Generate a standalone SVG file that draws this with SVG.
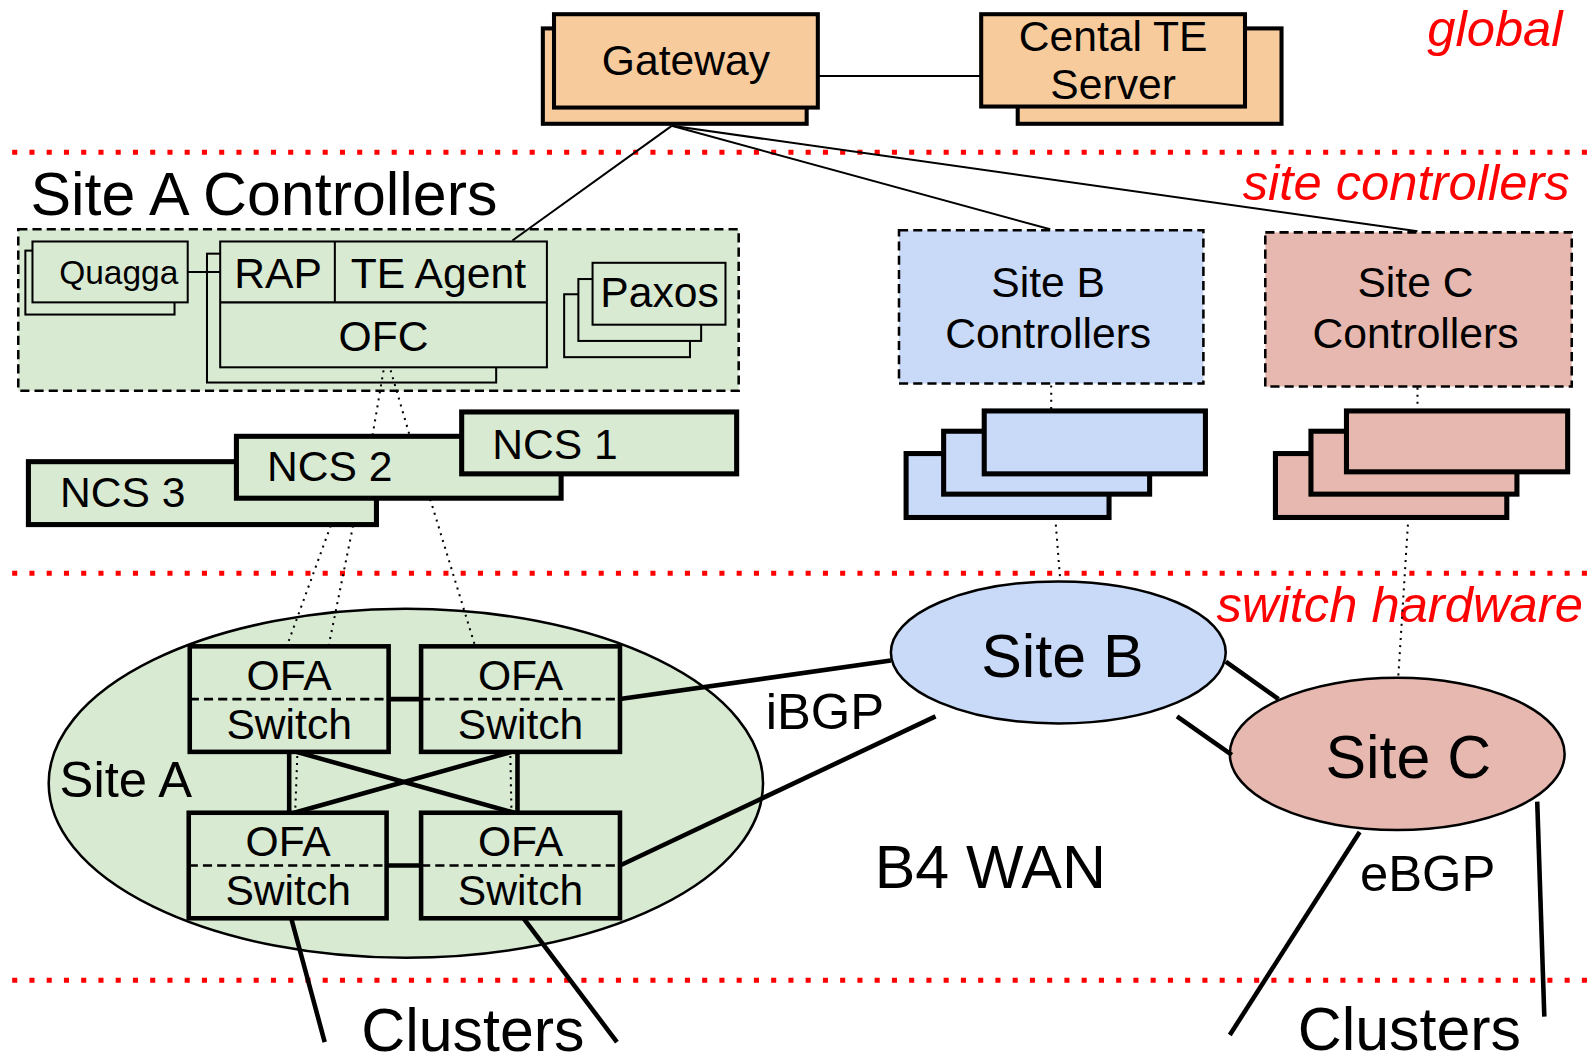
<svg xmlns="http://www.w3.org/2000/svg" width="1591" height="1062" viewBox="0 0 1591 1062">
<style>
text{font-family:"Liberation Sans",Arial,sans-serif;fill:#000;text-anchor:middle}
.t42{font-size:42px}
.t60{font-size:60px}
.t50{font-size:50px}
.red{fill:#ff0000;font-style:italic;font-size:50px;text-anchor:end}
.sep{stroke:#ff0000;stroke-width:5;stroke-dasharray:5 12;fill:none}
.peach{fill:#f8cb9c;stroke:#000;stroke-width:4}
.green{fill:#d9ead3;stroke:#000;stroke-width:2}
.greenT{fill:#d9ead3;stroke:#000;stroke-width:5}
.blueT{fill:#c9daf8;stroke:#000;stroke-width:5}
.pinkT{fill:#e6b8af;stroke:#000;stroke-width:5}
.dash{stroke:#000;stroke-width:2.5;stroke-dasharray:9 5}
.ln{stroke:#000;stroke-width:2;fill:none}
.thick{stroke:#000;stroke-width:4.5;fill:none}
.dot{stroke:#000;stroke-width:2;stroke-dasharray:2 5;fill:none}
.ofa{fill:#d9ead3;stroke:#000;stroke-width:4.5}
.mid{stroke:#000;stroke-width:2.5;stroke-dasharray:9 5}
</style>
<rect width="1591" height="1062" fill="#fff"/>
<g transform="scale(1.01467)">
<g id="separators">
<line class="sep" x1="12" y1="150" x2="1568" y2="150"/>
<line class="sep" x1="12" y1="565" x2="1568" y2="565"/>
<line class="sep" x1="12" y1="966" x2="1568" y2="966"/>
<text class="red" x="1540" y="45">global</text>
<text class="red" x="1547" y="197">site controllers</text>
<text class="red" x="1560" y="613">switch hardware</text>
</g>
<g id="gateway">
<rect class="peach" x="535" y="28" width="260" height="94"/>
<rect class="peach" x="546" y="14" width="260" height="92"/>
<text class="t42" x="676" y="74">Gateway</text>
</g>
<g id="central-te">
<rect class="peach" x="1003" y="28" width="260" height="94"/>
<rect class="peach" x="967" y="14" width="260" height="91"/>
<text class="t42" x="1097" y="50">Cental TE</text>
<text class="t42" x="1097" y="98">Server</text>
</g>
<g id="site-a-controllers">
<text class="t60" x="30" y="212" style="text-anchor:start">Site A Controllers</text>
<rect class="green dash" x="18" y="226" width="710" height="159"/>
<rect class="green" x="25" y="247" width="147" height="63"/>
<rect class="green" x="32" y="238" width="153" height="60"/>
<text x="117" y="280" style="font-size:33px">Quagga</text>
<rect class="green" x="204" y="250" width="285" height="127"/>
<rect class="green" x="217" y="238" width="322" height="124"/>
<line class="ln" x1="217" y1="298" x2="539" y2="298"/>
<line class="ln" x1="330" y1="238" x2="330" y2="298"/>
<text class="t42" x="274" y="284">RAP</text>
<text class="t42" x="432" y="284">TE Agent</text>
<text class="t42" x="378" y="346">OFC</text>
<rect class="green" x="556" y="290" width="124" height="62"/>
<rect class="green" x="570" y="275" width="121" height="61"/>
<rect class="green" x="584" y="259" width="131" height="61"/>
<text class="t42" x="650" y="303">Paxos</text>
</g>
<g id="ncs">
<rect class="greenT" x="28" y="455" width="343" height="62"/>
<text class="t42" x="121" y="500">NCS 3</text>
<rect class="greenT" x="233" y="430" width="320" height="61"/>
<text class="t42" x="325" y="474">NCS 2</text>
<rect class="greenT" x="455" y="406" width="271" height="61"/>
<text class="t42" x="547" y="452">NCS 1</text>
</g>
<g id="site-b-controllers">
<rect class="dash" fill="#c9daf8" x="886" y="227" width="300" height="151"/>
<text class="t42" x="1033" y="293">Site B</text>
<text class="t42" x="1033" y="343">Controllers</text>
<rect class="blueT" x="893" y="447" width="200" height="63"/>
<rect class="blueT" x="930" y="425" width="203" height="62"/>
<rect class="blueT" x="970" y="405" width="218" height="62"/>
</g>
<g id="site-c-controllers">
<rect class="dash" fill="#e6b8af" x="1247" y="229" width="302" height="152"/>
<text class="t42" x="1395" y="293">Site C</text>
<text class="t42" x="1395" y="343">Controllers</text>
<rect class="pinkT" x="1257" y="447" width="228" height="63"/>
<rect class="pinkT" x="1292" y="425" width="203" height="62"/>
<rect class="pinkT" x="1327" y="405" width="218" height="60"/>
</g>
<g id="site-a">
<ellipse cx="400" cy="772" rx="352" ry="172" fill="#d9ead3" stroke="#000" stroke-width="2.5"/>
<text class="t50" x="124" y="785">Site A</text>
<line class="thick" x1="383" y1="689" x2="415" y2="689"/>
<line class="thick" x1="381" y1="853" x2="415" y2="853"/>
<line class="thick" x1="285" y1="741" x2="285" y2="801"/>
<line class="thick" x1="510" y1="741" x2="510" y2="801"/>
<line class="thick" x1="292" y1="741" x2="507" y2="801"/>
<line class="thick" x1="504" y1="741" x2="290" y2="801"/>
<line class="dot" x1="293" y1="745" x2="291" y2="798"/>
<line class="dot" x1="503" y1="745" x2="504" y2="798"/>
<rect class="ofa" x="187" y="637" width="196" height="104"/>
<line class="mid" x1="187" y1="689" x2="383" y2="689"/>
<text class="t42" x="285" y="680">OFA</text>
<text class="t42" x="285" y="728">Switch</text>
<rect class="ofa" x="415" y="637" width="196" height="104"/>
<line class="mid" x1="415" y1="689" x2="611" y2="689"/>
<text class="t42" x="513" y="680">OFA</text>
<text class="t42" x="513" y="728">Switch</text>
<rect class="ofa" x="186" y="801" width="195" height="104"/>
<line class="mid" x1="186" y1="853" x2="381" y2="853"/>
<text class="t42" x="284" y="844">OFA</text>
<text class="t42" x="284" y="892">Switch</text>
<rect class="ofa" x="415" y="801" width="196" height="104"/>
<line class="mid" x1="415" y1="853" x2="611" y2="853"/>
<text class="t42" x="513" y="844">OFA</text>
<text class="t42" x="513" y="892">Switch</text>
</g>
<g id="site-b">
<ellipse cx="1043" cy="643" rx="165" ry="70" fill="#c9daf8" stroke="#000" stroke-width="2.5"/>
<text class="t60" x="1047" y="667">Site B</text>
</g>
<g id="site-c">
<ellipse cx="1377" cy="743" rx="165" ry="75" fill="#e6b8af" stroke="#000" stroke-width="2.5"/>
<text class="t60" x="1388" y="767">Site C</text>
</g>
<g id="connectors">
<line class="ln" x1="806" y1="75" x2="967" y2="75"/>
<line class="ln" x1="662" y1="124" x2="505" y2="237"/>
<line class="ln" x1="662" y1="124" x2="1035" y2="226"/>
<line class="ln" x1="662" y1="124" x2="1397" y2="228"/>
<line class="ln" x1="185" y1="268" x2="217" y2="268"/>
<line class="dot" x1="378" y1="365" x2="367" y2="430"/>
<line class="dot" x1="385" y1="365" x2="404" y2="430"/>
<line class="dot" x1="326" y1="518" x2="283" y2="636"/>
<line class="dot" x1="348" y1="518" x2="324" y2="636"/>
<line class="dot" x1="424" y1="492" x2="468" y2="636"/>
<line class="dot" x1="1036" y1="380" x2="1036" y2="405"/>
<line class="dot" x1="1040" y1="510" x2="1045" y2="573"/>
<line class="dot" x1="1397" y1="382" x2="1397" y2="405"/>
<line class="dot" x1="1388" y1="510" x2="1378" y2="668"/>
<line class="thick" x1="611" y1="689" x2="878" y2="651"/>
<line class="thick" x1="611" y1="853" x2="922" y2="706"/>
<line class="thick" x1="1208" y1="652" x2="1260" y2="689"/>
<line class="thick" x1="1160" y1="706" x2="1214" y2="744"/>
<line class="thick" x1="1340" y1="820" x2="1212" y2="1020"/>
<line class="thick" x1="1515" y1="790" x2="1522" y2="1002"/>
<line class="thick" x1="287" y1="905" x2="320" y2="1027"/>
<line class="thick" x1="516" y1="905" x2="608" y2="1027"/>
</g>
<g id="labels">
<text class="t50" x="813" y="718">iBGP</text>
<text class="t60" x="976" y="875">B4 WAN</text>
<text class="t50" x="1407" y="878">eBGP</text>
<text class="t60" x="466" y="1036">Clusters</text>
<text class="t60" x="1389" y="1035">Clusters</text>
</g>
</g>
</svg>
